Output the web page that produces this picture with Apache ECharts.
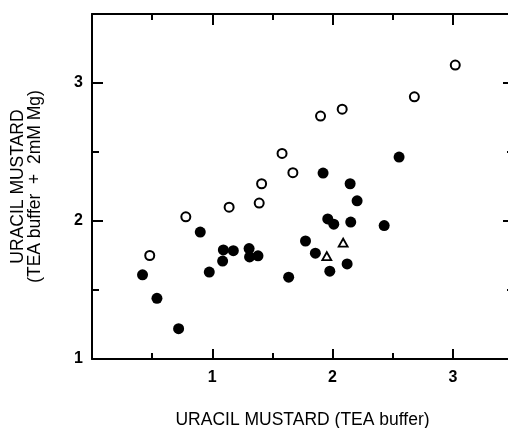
<!DOCTYPE html>
<html>
<head>
<meta charset="utf-8">
<script src="https://cdn.jsdelivr.net/npm/echarts@6/dist/echarts.min.js"></script>
<style>
html,body{margin:0;padding:0;background:#fff;}
#chart{width:508px;height:428px;}
</style>
</head>
<body>
<div id="chart"></div>
<script>
// Data
var openCircles = [
  [0.48, 1.75], [0.78, 2.03], [1.14, 2.10], [1.39, 2.13], [1.41, 2.27],
  [1.58, 2.49], [1.67, 2.35], [1.90, 2.76], [2.08, 2.81], [2.68, 2.90], [3.02, 3.13]
];
var filledCircles = [
  [0.42, 1.61], [0.54, 1.44], [0.72, 1.22], [0.90, 1.92], [0.975, 1.63],
  [1.086, 1.71], [1.092, 1.79], [1.175, 1.785], [1.306, 1.80], [1.31, 1.74],
  [1.38, 1.748], [1.635, 1.593], [1.775, 1.855], [1.857, 1.767], [1.921, 2.347],
  [1.96, 2.015], [2.01, 1.977], [1.977, 1.636], [2.121, 1.689], [2.146, 2.27],
  [2.151, 1.992], [2.204, 2.146], [2.429, 1.967], [2.553, 2.463]
];
var triangles = [[1.952, 1.746], [2.088, 1.843]];
var xTickLabels = [1, 2, 3];
var yTickLabels = [1, 2, 3];
var xTitle = 'URACIL MUSTARD (TEA buffer)';
var yTitle = 'URACIL MUSTARD\n(TEA buffer  +  2mM Mg)';

var FONT = 'Liberation Sans, Arial, Helvetica, sans-serif';
var black = '#000';

function axis(pos, interval, tickLen, showLine, labels, extra) {
  var isX = (pos === 'bottom' || pos === 'top');
  var a = {
    type: 'value',
    position: pos,
    min: isX ? 0 : 1,
    max: 3.5,
    interval: interval,
    splitLine: {show: false},
    axisLine: {show: showLine, onZero: false, lineStyle: {color: black, width: 2}},
    axisTick: {show: true, inside: true, length: tickLen, lineStyle: {color: black, width: 2}},
    axisLabel: labels ? {
      show: true,
      color: black,
      fontFamily: FONT,
      fontWeight: 'bold',
      fontSize: 16,
      margin: isX ? 11 : 9,
      formatter: function (v) {
        var list = isX ? xTickLabels : yTickLabels;
        return list.indexOf(v) >= 0 ? String(v) : '';
      }
    } : {show: false}
  };
  if (extra) for (var k in extra) a[k] = extra[k];
  return a;
}

var chart = echarts.init(document.getElementById('chart'), null, {renderer: 'canvas'});
chart.setOption({
  animation: false,
  backgroundColor: '#fff',
  grid: {left: 92, right: -5, top: 14, bottom: 69, containLabel: false, outerBoundsMode: 'none'},
  xAxis: [
    axis('bottom', 1, 10, true, true, {
      name: xTitle, nameLocation: 'middle', nameGap: 52,
      nameTextStyle: {color: black, fontFamily: FONT, fontSize: 17.5}
    }),
    axis('bottom', 0.5, 6, false, false),
    axis('top', 1, 11, true, false),
    axis('top', 0.5, 6, false, false)
  ],
  yAxis: [
    axis('left', 1, 11, true, true, {
      name: yTitle, nameLocation: 'middle', nameRotate: 90, nameGap: 48,
      nameTextStyle: {color: black, fontFamily: FONT, fontSize: 17.5, lineHeight: 17}
    }),
    axis('left', 0.5, 7, false, false),
    axis('right', 1, 10, true, false),
    axis('right', 0.5, 6, false, false)
  ],
  series: [
    {
      type: 'scatter', xAxisIndex: 0, yAxisIndex: 0,
      data: filledCircles, symbol: 'circle', symbolSize: 11,
      itemStyle: {color: black, opacity: 1}
    },
    {
      type: 'scatter', xAxisIndex: 0, yAxisIndex: 0,
      data: openCircles, symbol: 'circle', symbolSize: 9,
      itemStyle: {color: '#fff', borderColor: black, borderWidth: 2, opacity: 1}
    },
    {
      type: 'scatter', xAxisIndex: 0, yAxisIndex: 0,
      data: triangles, symbol: 'triangle', symbolSize: [9, 8],
      itemStyle: {color: '#fff', borderColor: black, borderWidth: 1.8, opacity: 1}
    }
  ]
});
</script>
</body>
</html>
